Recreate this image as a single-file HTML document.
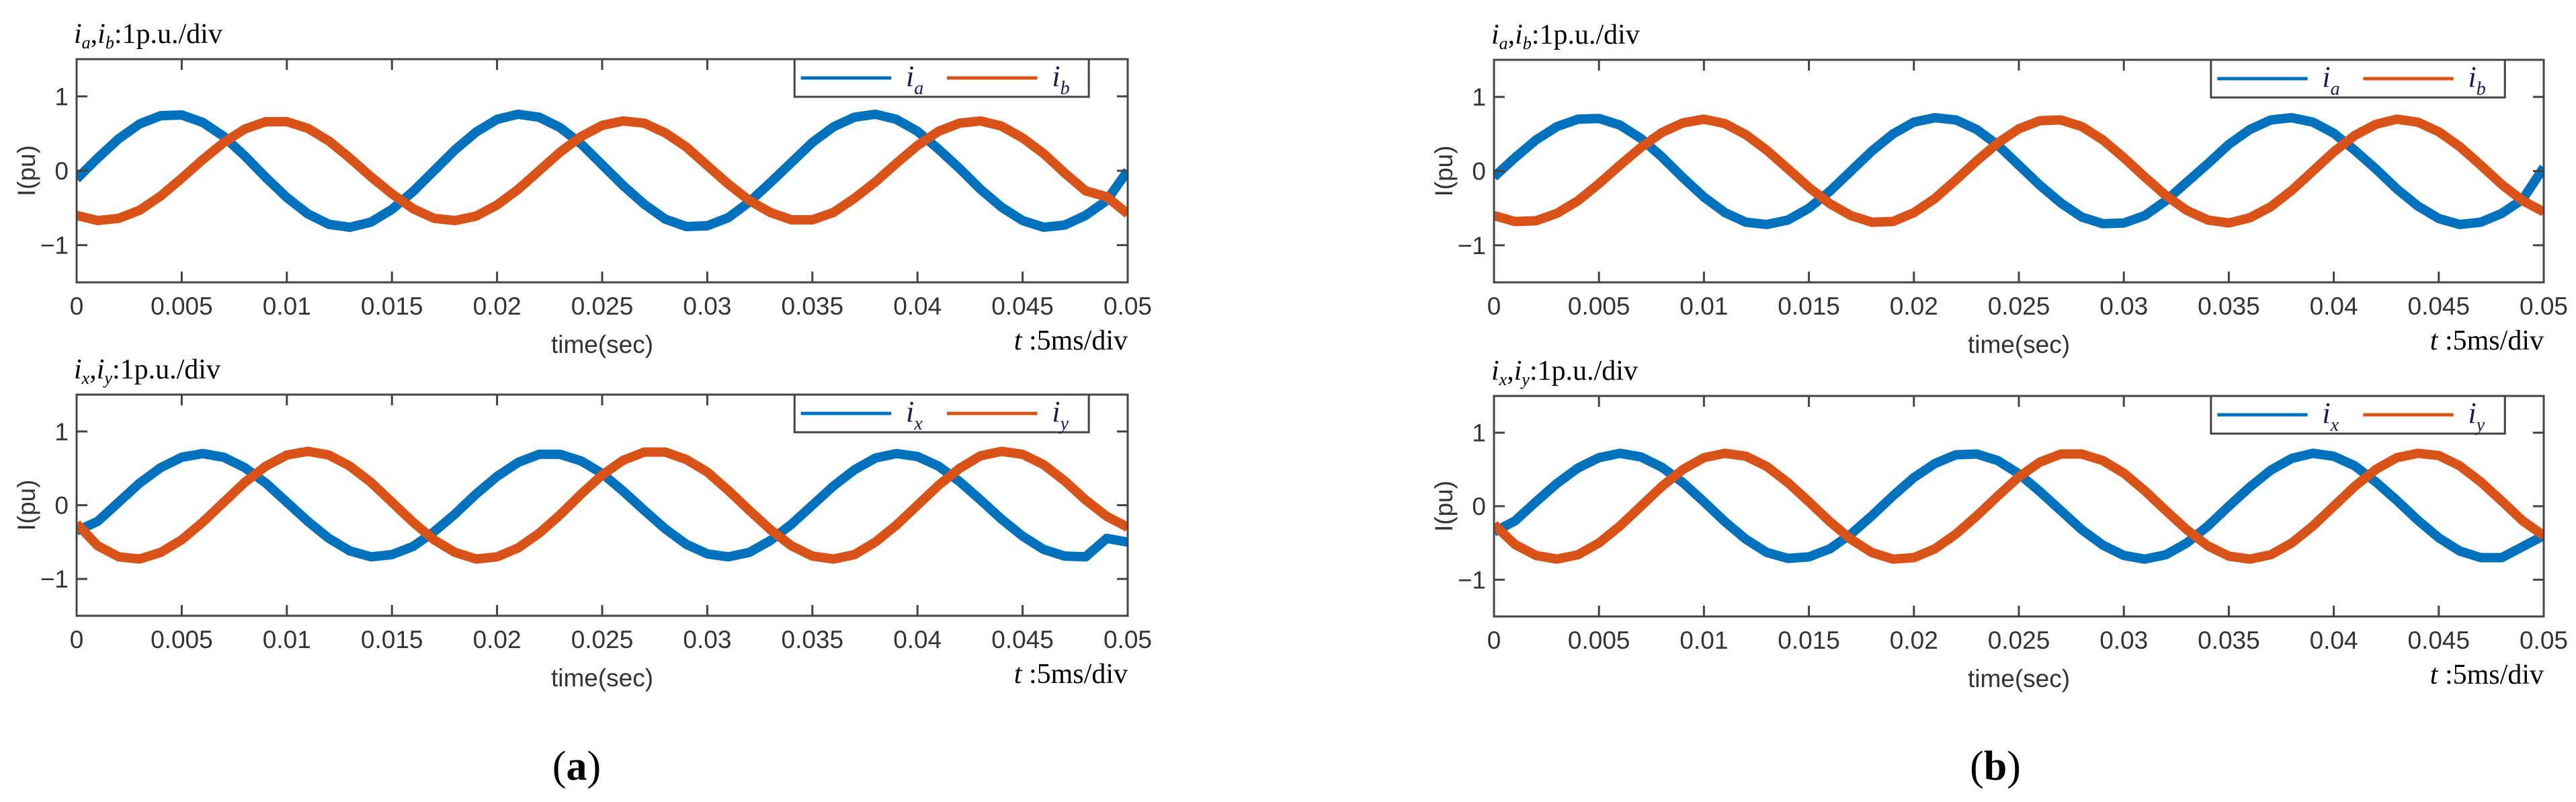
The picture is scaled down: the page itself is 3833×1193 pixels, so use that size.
<!DOCTYPE html>
<html><head><meta charset="utf-8"><style>
html,body{margin:0;padding:0;background:#fff;}
svg{display:block;}
</style></head><body>
<svg id="fig" width="3833" height="1193" viewBox="0 0 3833 1193" xmlns="http://www.w3.org/2000/svg">
<rect width="3833" height="1193" fill="#fff"/>
</svg>
<script>
const times = [];
for (let i = 0; i <= 50; i++) times.push(i * 0.001);
const xTicks = [0,0.005,0.01,0.015,0.02,0.025,0.03,0.035,0.04,0.045,0.05];
const xTickLabels = ["0","0.005","0.01","0.015","0.02","0.025","0.03","0.035","0.04","0.045","0.05"];
const yTicks = [-1,0,1];
const yTickLabels = ["\u22121","0","1"];

const ia_a = [-0.11,0.17,0.43,0.63,0.74,0.75,0.65,0.46,0.20,-0.09,-0.36,-0.58,-0.72,-0.76,-0.69,-0.52,-0.28,0.0,0.28,0.52,0.69,0.76,0.72,0.58,0.36,0.08,-0.20,-0.45,-0.65,-0.75,-0.74,-0.63,-0.42,-0.16,0.11,0.38,0.59,0.72,0.76,0.69,0.53,0.29,0.03,-0.25,-0.49,-0.67,-0.76,-0.73,-0.60,-0.40,0.0];
const ib_a = [-0.60,-0.67,-0.64,-0.53,-0.34,-0.10,0.15,0.38,0.56,0.66,0.66,0.57,0.40,0.17,-0.08,-0.31,-0.51,-0.64,-0.67,-0.61,-0.46,-0.25,0.0,0.25,0.46,0.61,0.67,0.64,0.51,0.32,0.07,-0.18,-0.40,-0.56,-0.66,-0.66,-0.56,-0.37,-0.15,0.10,0.34,0.53,0.64,0.67,0.60,0.44,0.23,-0.03,-0.27,-0.35,-0.58];
const ix_a = [-0.35,-0.22,0.04,0.30,0.51,0.65,0.70,0.65,0.51,0.30,0.04,-0.22,-0.45,-0.62,-0.70,-0.67,-0.56,-0.36,-0.12,0.15,0.39,0.58,0.69,0.69,0.60,0.43,0.19,-0.07,-0.32,-0.53,-0.66,-0.70,-0.64,-0.48,-0.26,0.0,0.26,0.48,0.64,0.70,0.66,0.53,0.32,0.07,-0.19,-0.42,-0.60,-0.69,-0.70,-0.45,-0.50];
const iy_a = [-0.25,-0.55,-0.70,-0.73,-0.64,-0.47,-0.23,0.04,0.31,0.53,0.68,0.73,0.68,0.53,0.31,0.04,-0.23,-0.47,-0.64,-0.73,-0.70,-0.58,-0.38,-0.13,0.15,0.41,0.61,0.72,0.72,0.62,0.45,0.20,-0.07,-0.33,-0.55,-0.69,-0.73,-0.67,-0.50,-0.27,0.0,0.27,0.50,0.67,0.73,0.69,0.55,0.33,0.07,-0.15,-0.30];
const ia_b = [-0.08,0.18,0.42,0.60,0.70,0.71,0.62,0.44,0.19,-0.09,-0.35,-0.56,-0.69,-0.72,-0.66,-0.50,-0.27,0.0,0.27,0.50,0.66,0.72,0.69,0.56,0.35,0.08,-0.19,-0.43,-0.62,-0.71,-0.70,-0.60,-0.40,-0.15,0.10,0.36,0.56,0.69,0.72,0.66,0.51,0.28,0.03,-0.24,-0.47,-0.64,-0.72,-0.69,-0.57,-0.38,0.05];
const ib_b = [-0.60,-0.68,-0.67,-0.57,-0.40,-0.17,0.08,0.32,0.52,0.65,0.70,0.64,0.49,0.28,0.03,-0.22,-0.44,-0.60,-0.69,-0.68,-0.56,-0.37,-0.12,0.14,0.38,0.57,0.68,0.69,0.60,0.42,0.18,-0.08,-0.33,-0.53,-0.66,-0.70,-0.63,-0.48,-0.26,0.0,0.26,0.48,0.63,0.70,0.66,0.53,0.33,0.08,-0.18,-0.40,-0.55];
const ix_b = [-0.35,-0.20,0.06,0.31,0.52,0.66,0.72,0.67,0.53,0.32,0.06,-0.21,-0.45,-0.63,-0.71,-0.69,-0.58,-0.38,-0.13,0.14,0.39,0.58,0.70,0.71,0.62,0.44,0.20,-0.06,-0.32,-0.53,-0.67,-0.72,-0.66,-0.50,-0.27,0.0,0.26,0.49,0.65,0.72,0.68,0.55,0.33,0.08,-0.19,-0.43,-0.61,-0.70,-0.70,-0.55,-0.40];
const iy_b = [-0.25,-0.52,-0.67,-0.72,-0.66,-0.50,-0.27,0.0,0.27,0.50,0.66,0.72,0.68,0.54,0.32,0.06,-0.21,-0.45,-0.63,-0.72,-0.70,-0.58,-0.38,-0.13,0.14,0.40,0.60,0.71,0.71,0.62,0.45,0.21,-0.06,-0.32,-0.54,-0.68,-0.72,-0.66,-0.50,-0.27,0.0,0.27,0.50,0.66,0.72,0.69,0.55,0.33,0.07,-0.20,-0.40];

const NS = "http://www.w3.org/2000/svg";
const svg = document.getElementById("fig");
function mk(tag, attrs, parent) {
  const e = document.createElementNS(NS, tag);
  for (const k in attrs) e.setAttribute(k, attrs[k]);
  (parent || svg).appendChild(e);
  return e;
}
const BLUE = "#0072BD", ORANGE = "#D95319";

function panel(id, L, R, T, B, s1, s2, n1, n2, sub1, sub2) {
  const g = mk("g", {});
  
  
  const xs = t => L + (t - 0) / 0.05 * (R - L);
  const ys = v => T + (1.5 - v) / 3 * (B - T);
  // clip
  const cp = mk("clipPath", {id: "clip-" + id}, g);
  mk("rect", {x: L, y: T, width: R - L, height: B - T}, cp);
  // series
  [[s1, BLUE, n1], [s2, ORANGE, n2]].forEach(([arr, col, nm]) => {
    const pts = arr.map((v, i) => xs(times[i]).toFixed(1) + "," + ys(v).toFixed(1)).join(" ");
    const pl = mk("polyline", {points: pts, fill: "none", stroke: col, "stroke-width": 14, "stroke-linejoin": "round", "clip-path": "url(#clip-" + id + ")"}, g);
    
    
  });
  // frame
  const fr = mk("rect", {x: L, y: T, width: R - L, height: B - T, fill: "none", stroke: "#444", "stroke-width": 3}, g);
  
  
  // x ticks
  xTicks.forEach((t, i) => {
    const x = xs(t);
    mk("line", {x1: x, y1: B, x2: x, y2: B - 16, stroke: "#444", "stroke-width": 3}, g);
    mk("line", {x1: x, y1: T, x2: x, y2: T + 16, stroke: "#444", "stroke-width": 3}, g);
    const tx = mk("text", {x: x, y: B + 48, "text-anchor": "middle", "font-family": "Liberation Sans, sans-serif", "font-size": 37, fill: "#333"}, g);
    tx.textContent = xTickLabels[i];
    
    
  });
  yTicks.forEach((v, i) => {
    const y = ys(v);
    mk("line", {x1: L, y1: y, x2: L + 16, y2: y, stroke: "#444", "stroke-width": 3}, g);
    mk("line", {x1: R, y1: y, x2: R - 16, y2: y, stroke: "#444", "stroke-width": 3}, g);
    const tx = mk("text", {x: L - 12, y: y + 13, "text-anchor": "end", "font-family": "Liberation Sans, sans-serif", "font-size": 37, fill: "#333"}, g);
    tx.textContent = yTickLabels[i];
    
    
  });
  // y label
  const yl = mk("text", {x: 0, y: 0, transform: "translate(" + (L - 62) + "," + ((T + B) / 2) + ") rotate(-90)", "text-anchor": "middle", "font-family": "Liberation Sans, sans-serif", "font-size": 37, fill: "#333"}, g);
  yl.textContent = "I(pu)";
  
  
  // x label
  const xl = mk("text", {x: (L + R) / 2, y: B + 105, "text-anchor": "middle", "font-family": "Liberation Sans, sans-serif", "font-size": 37, fill: "#333"}, g);
  xl.textContent = "time(sec)";
  
  
  // t:5ms/div
  const td = mk("text", {x: R, y: B + 100, "text-anchor": "end", "font-family": "Liberation Serif, serif", "font-size": 42, fill: "#000"}, g);
  td.innerHTML = '<tspan font-style="italic">t</tspan> :5ms/div';
  
  
  // title
  const ti = mk("text", {x: L - 4, y: T - 24, "font-family": "Liberation Serif, serif", "font-size": 42, fill: "#000"}, g);
  ti.innerHTML = '<tspan font-style="italic">i</tspan><tspan font-style="italic" font-size="26" dy="8">' + sub1 + '</tspan><tspan dy="-8">,</tspan><tspan font-style="italic">i</tspan><tspan font-style="italic" font-size="26" dy="8">' + sub2 + '</tspan><tspan dy="-8">:1p.u./div</tspan>';
  
  
  // legend
  const w = R - L;
  const lg = mk("g", {}, g);
  
  
  const lx0 = L + 0.683 * w, lx1 = L + 0.963 * w;
  mk("rect", {x: lx0, y: T, width: lx1 - lx0, height: 56, fill: "#fff", stroke: "#444", "stroke-width": 3}, lg);
  [[BLUE, sub1, 0], [ORANGE, sub2, 1]].forEach(([col, sb, k]) => {
    const bx = L + (0.689 + k * 0.139) * w;
    mk("line", {x1: bx, y1: T + 28, x2: bx + 0.086 * w, y2: T + 28, stroke: col, "stroke-width": 5}, lg);
    const lt = mk("text", {x: bx + 0.1 * w, y: T + 40, "font-family": "Liberation Serif, serif", "font-size": 44, fill: "#1a1a50"}, lg);
    lt.innerHTML = '<tspan font-style="italic">i</tspan><tspan font-style="italic" font-size="28" dy="12">' + sb + '</tspan>';
    
    
  });
}

panel("a-top", 114, 1678, 88, 420, ia_a, ib_a, "ia", "ib", "a", "b");
panel("a-bottom", 114, 1678, 587, 916, ix_a, iy_a, "ix", "iy", "x", "y");
panel("b-top", 2223, 3785, 89, 420, ia_b, ib_b, "ia", "ib", "a", "b");
panel("b-bottom", 2223, 3785, 589, 917, ix_b, iy_b, "ix", "iy", "x", "y");

[["a", 858], ["b", 2969]].forEach(([c, x]) => {
  const t = mk("text", {x: x, y: 1160, "text-anchor": "middle", "font-family": "Liberation Serif, serif", "font-size": 62, fill: "#000"});
  t.innerHTML = '(<tspan font-weight="bold">' + c + '</tspan>)';
  
  
});
</script>
</body></html>
